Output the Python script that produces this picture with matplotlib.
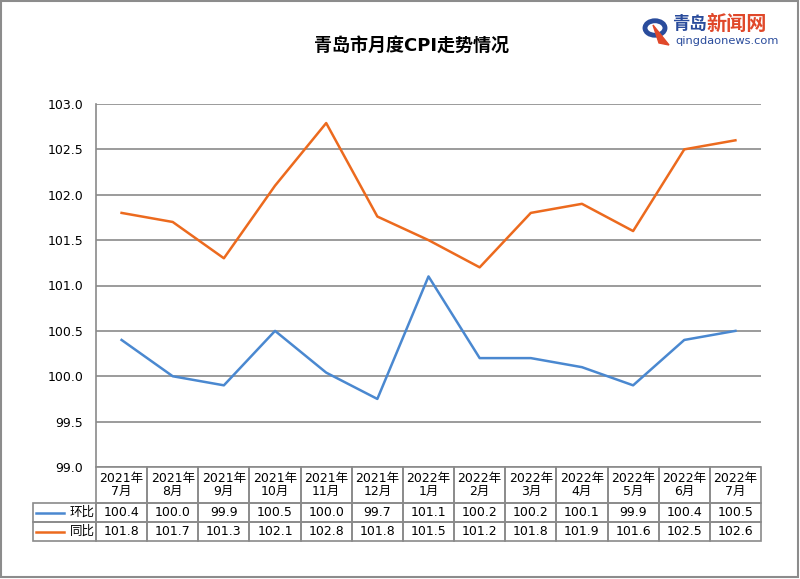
import matplotlib
matplotlib.use("Agg")
import matplotlib.pyplot as plt
import matplotlib.transforms as mtransforms
from matplotlib.patches import Rectangle, Circle, Polygon

plt.rcParams['font.family'] = ['DejaVu Sans', 'Noto Sans CJK SC']

# data
months = ["2021年\n7月", "2021年\n8月", "2021年\n9月", "2021年\n10月", "2021年\n11月",
          "2021年\n12月", "2022年\n1月", "2022年\n2月", "2022年\n3月", "2022年\n4月",
          "2022年\n5月", "2022年\n6月", "2022年\n7月"]
mom = [100.4, 100.0, 99.9, 100.5, 100.04, 99.75, 101.1, 100.2, 100.2, 100.1, 99.9, 100.4, 100.5]
yoy = [101.8, 101.7, 101.3, 102.1, 102.79, 101.76, 101.5, 101.2, 101.8, 101.9, 101.6, 102.5, 102.6]
mom_text = ["100.4", "100.0", "99.9", "100.5", "100.0", "99.7", "101.1",
            "100.2", "100.2", "100.1", "99.9", "100.4", "100.5"]
yoy_text = ["101.8", "101.7", "101.3", "102.1", "102.8", "101.8", "101.5",
            "101.2", "101.8", "101.9", "101.6", "102.5", "102.6"]
series_names = ["环比", "同比"]
yticks = [99.0, 99.5, 100.0, 100.5, 101.0, 101.5, 102.0, 102.5, 103.0]

blue = "#4a88d0"
orange = "#ec6a1e"
grid_c = "#8a8a8a"

W, H = 800, 579
fig = plt.figure(figsize=(W / 100, H / 100), dpi=100)

def fx(px):
    return px / W

def fy(py):
    return 1 - py / H

# figure border
fig.patches.append(Rectangle((fx(1), fy(577)), fx(797), 576 / H, transform=fig.transFigure,
                             fill=False, edgecolor="#8c8c8c", linewidth=1.5))

ax = fig.add_axes([fx(96), fy(467), fx(665), 363 / H])
x = list(range(len(months)))
ax.plot(x, mom, color=blue, linewidth=1.8)
ax.plot(x, yoy, color=orange, linewidth=1.8)
ax.set_xlim(-0.5, len(months) - 0.5)
ax.set_ylim(99.0, 103.0)
ax.set_yticks(yticks)
ax.set_yticklabels(["%.1f" % v for v in yticks], fontsize=9)
ax.tick_params(axis="y", length=0, pad=9)
ax.set_xticks([])
for v in yticks:
    ax.axhline(v, color=grid_c, linewidth=1.2, zorder=0)
for s in ["top", "right", "bottom"]:
    ax.spines[s].set_visible(False)
ax.spines["left"].set_color(grid_c)
ax.spines["left"].set_linewidth(1.2)

# data table below the axes
tr = mtransforms.blended_transform_factory(ax.transData, ax.transAxes)
row_y = [0.0, -36 / 363, -55 / 363, -74 / 363]
lab_left = -0.5 - 63 / 51.15
cell_kw = dict(transform=tr, fill=False, edgecolor=grid_c, linewidth=1.2, clip_on=False)
for i in x:
    for r in range(3):
        ax.add_patch(Rectangle((i - 0.5, row_y[r + 1]), 1, row_y[r] - row_y[r + 1], **cell_kw))
    ax.text(i, (row_y[0] + row_y[1]) / 2, months[i], transform=tr, ha="center", va="center",
            fontsize=9, linespacing=1.05)
    ax.text(i, (row_y[1] + row_y[2]) / 2, mom_text[i], transform=tr, ha="center", va="center",
            fontsize=9)
    ax.text(i, (row_y[2] + row_y[3]) / 2, yoy_text[i], transform=tr, ha="center", va="center",
            fontsize=9)
for r, (name, col) in enumerate(zip(series_names, [blue, orange])):
    y0, y1 = row_y[r + 2], row_y[r + 1]
    ax.add_patch(Rectangle((lab_left, y0), -0.5 - lab_left, y1 - y0, **cell_kw))
    ym = (y0 + y1) / 2
    ax.plot([lab_left + 0.06, lab_left + 0.6], [ym, ym], color=col, linewidth=1.8,
            transform=tr, clip_on=False)
    ax.text(-0.53, ym, name, transform=tr, ha="right", va="center", fontsize=9)

# title
fig.text(fx(411), fy(46), "青岛市月度CPI走势情况", ha="center", va="center",
         fontsize=13, fontweight="bold")

# logo
fig.patches.append(Circle((fx(655), fy(28)), 10 / W, transform=fig.transFigure,
                          fill=False, edgecolor="#2a4c9c", linewidth=3.5))
fig.patches.append(Polygon([(fx(653), fy(25)), (fx(669), fy(45)), (fx(659), fy(43))],
                           closed=True, transform=fig.transFigure, color="#e0482a"))
fig.text(fx(672), fy(24), "青岛", ha="left", va="center", fontsize=12.5,
         fontweight="bold", color="#2a4c9c")
fig.text(fx(706), fy(24), "新闻网", ha="left", va="center", fontsize=14.5,
         fontweight="bold", color="#e0482a")
fig.text(fx(675), fy(41), "qingdaonews.com", ha="left", va="center", fontsize=8.2,
         color="#2a4c9c")

fig.savefig("out.png", dpi=100)
